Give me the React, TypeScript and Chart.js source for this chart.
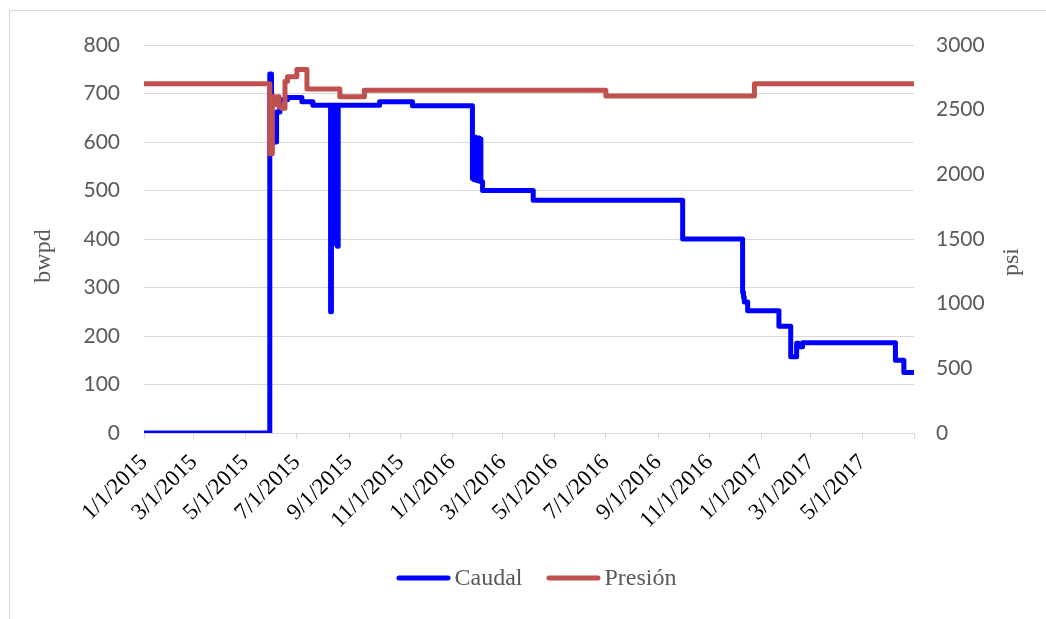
import React, { useEffect, useRef } from 'react';
import { Chart, registerables } from 'chart.js';

Chart.register(...registerables);

// Caudal (bwpd) – value holds from its date until the next date
const caudalDates = [
  '1/1/2015', '5/30/2015', '6/1/2015', '6/7/2015', '6/11/2015', '6/20/2015', '7/7/2015', '7/20/2015',
  '8/10/2015', '8/11/2015', '8/12/2015', '8/13/2015', '8/14/2015', '8/15/2015', '8/16/2015', '8/17/2015',
  '8/18/2015', '8/19/2015', '10/7/2015', '11/15/2015',
  '1/25/2016', '1/26/2016', '1/27/2016', '1/28/2016', '1/29/2016', '1/30/2016', '1/31/2016', '2/1/2016',
  '2/2/2016', '2/3/2016', '2/4/2016', '2/6/2016', '4/6/2016', '9/30/2016',
  '12/10/2016', '12/11/2016', '12/12/2016', '12/16/2016', '1/22/2017', '2/5/2017', '2/12/2017', '2/14/2017',
  '2/19/2017', '6/9/2017', '6/19/2017', '6/30/2017',
];
const caudalValues = [
  0, 740, 600, 662, 687, 692, 683, 676,
  250, 676, 420, 676, 400, 676, 390, 676,
  385, 676, 683, 675,
  525, 610, 522, 610, 522, 608, 520, 608,
  520, 606, 518, 500, 480, 400,
  290, 280, 270, 252, 220, 157, 185, 178,
  186, 150, 125, 125,
];

// Presión (psi)
const presionDates = [
  '1/1/2015', '5/30/2015', '6/2/2015', '6/5/2015', '6/8/2015', '6/10/2015', '6/13/2015', '6/17/2015',
  '6/20/2015', '7/1/2015', '7/13/2015', '8/21/2015', '9/19/2015', '7/1/2016', '12/24/2016', '6/30/2017',
];
const presionValues = [
  2700, 2160, 2600, 2540, 2600, 2520, 2510, 2720,
  2755, 2810, 2660, 2600, 2650, 2605, 2700, 2700,
];

const tickDates = [
  '1/1/2015', '3/1/2015', '5/1/2015', '7/1/2015', '9/1/2015', '11/1/2015',
  '1/1/2016', '3/1/2016', '5/1/2016', '7/1/2016', '9/1/2016', '11/1/2016',
  '1/1/2017', '3/1/2017', '5/1/2017', '7/1/2017',
];
const tickLabels = [
  '1/1/2015', '3/1/2015', '5/1/2015', '7/1/2015', '9/1/2015', '11/1/2015',
  '1/1/2016', '3/1/2016', '5/1/2016', '7/1/2016', '9/1/2016', '11/1/2016',
  '1/1/2017', '3/1/2017', '5/1/2017', '',
];

const dayOf = (s: string) => {
  const [m, d, y] = s.split('/').map(Number);
  return (Date.UTC(y, m - 1, d) - Date.UTC(2015, 0, 1)) / 86400000;
};

const GRID = '#d9d9d9';
const TXT = '#595959';
const SERIF = '"Liberation Serif", "Times New Roman", serif';

const axisTitles = {
  id: 'axisTitles',
  afterDraw(chart: any) {
    const { ctx, chartArea } = chart;
    ctx.save();
    ctx.font = `24px ${SERIF}`;
    ctx.fillStyle = TXT;
    ctx.textAlign = 'center';
    ctx.textBaseline = 'middle';
    ctx.save();
    ctx.translate(chartArea.left - 100, chartArea.top + 211);
    ctx.rotate(-Math.PI / 2);
    ctx.fillText('bwpd', 0, 0);
    ctx.restore();
    ctx.save();
    ctx.translate(chartArea.right + 98, chartArea.top + 217);
    ctx.rotate(-Math.PI / 2);
    ctx.fillText('psi', 0, 0);
    ctx.restore();
    ctx.restore();
  },
};

const lineLegend = {
  id: 'lineLegend',
  afterDraw(chart: any) {
    const { ctx, chartArea } = chart;
    const sample = 54;
    const gap = 4;
    const between = 24;
    ctx.save();
    ctx.font = `24px ${SERIF}`;
    const items = chart.data.datasets.map((ds: any) => ({
      text: ds.label,
      color: ds.borderColor,
      w: ctx.measureText(ds.label).width,
    }));
    const total =
      items.reduce((s: number, it: any) => s + sample + gap + it.w, 0) + between * (items.length - 1);
    let x = (chartArea.left + chartArea.right) / 2 + 7.5 - total / 2;
    const y = chartArea.bottom + 145;
    items.forEach((it: any) => {
      ctx.strokeStyle = it.color;
      ctx.lineWidth = 5;
      ctx.lineCap = 'round';
      ctx.beginPath();
      ctx.moveTo(x + 2.5, y);
      ctx.lineTo(x + sample - 2.5, y);
      ctx.stroke();
      x += sample + gap;
      ctx.fillStyle = TXT;
      ctx.textAlign = 'left';
      ctx.textBaseline = 'middle';
      ctx.fillText(it.text, x, y + 1);
      x += it.w + between;
    });
    ctx.restore();
  },
};

export default function App() {
  const ref = useRef<HTMLCanvasElement | null>(null);

  useEffect(() => {
    document.body.style.margin = '0';
    const canvas = ref.current;
    if (!canvas) return;
    const chart = new Chart(canvas, {
      type: 'line',
      data: {
        datasets: [
          {
            label: 'Caudal',
            data: caudalDates.map((d, i) => ({ x: dayOf(d), y: caudalValues[i] })),
            borderColor: '#0000FF',
            backgroundColor: '#0000FF',
            borderWidth: 5,
            stepped: 'before',
            pointRadius: 0,
            borderJoinStyle: 'round',
            borderCapStyle: 'round',
            yAxisID: 'y',
            order: 1,
          },
          {
            label: 'Presión',
            data: presionDates.map((d, i) => ({ x: dayOf(d), y: presionValues[i] })),
            borderColor: '#C0504D',
            backgroundColor: '#C0504D',
            borderWidth: 5,
            stepped: 'before',
            pointRadius: 0,
            borderJoinStyle: 'round',
            borderCapStyle: 'round',
            yAxisID: 'y1',
            order: 0,
          },
        ],
      },
      options: {
        animation: false,
        responsive: false,
        devicePixelRatio: 1,
        layout: { padding: { top: 45, bottom: 77, left: 0, right: 0 } },
        plugins: {
          tooltip: { enabled: false },
          legend: { display: false },
        },
        scales: {
          x: {
            type: 'linear',
            min: dayOf(tickDates[0]),
            max: dayOf(tickDates[tickDates.length - 1]),
            afterBuildTicks: (scale: any) => {
              scale.ticks = tickDates.map((d) => ({ value: dayOf(d) }));
            },
            afterFit: (scale: any) => {
              scale.height = 109;
            },
            ticks: {
              autoSkip: false,
              minRotation: 45,
              maxRotation: 45,
              padding: 10,
              color: '#000',
              font: { family: SERIF, size: 23 },
              callback: (_v: any, i: number) => tickLabels[i],
            },
            grid: {
              drawOnChartArea: false,
              drawTicks: true,
              tickLength: 6,
              color: GRID,
            },
            border: { color: GRID },
          },
          y: {
            position: 'left',
            min: 0,
            max: 800,
            afterFit: (scale: any) => {
              scale.width = 144;
            },
            ticks: {
              stepSize: 100,
              padding: 24,
              color: TXT,
              font: { family: 'Lato', size: 21 },
              callback: (v: any) => String(v),
            },
            grid: { color: GRID, drawTicks: false },
            border: { display: false },
          },
          y1: {
            position: 'right',
            min: 0,
            max: 3000,
            afterFit: (scale: any) => {
              scale.width = 132;
            },
            ticks: {
              stepSize: 500,
              padding: 22,
              color: TXT,
              font: { family: 'Lato', size: 21 },
              callback: (v: any) => String(v),
            },
            grid: { display: false, drawTicks: false },
            border: { display: false },
          },
        },
      } as any,
      plugins: [axisTitles, lineLegend],
    });
    return () => chart.destroy();
  }, []);

  return (
    <div style={{ position: 'relative', width: 1046, height: 619, overflow: 'hidden', background: '#fff' }}>
      <div
        style={{
          position: 'absolute',
          left: 9,
          top: 10,
          width: 1100,
          height: 700,
          border: `1px solid ${GRID}`,
        }}
      />
      <canvas ref={ref} width={1046} height={619} style={{ position: 'absolute', left: 0, top: 0 }} />
    </div>
  );
}
